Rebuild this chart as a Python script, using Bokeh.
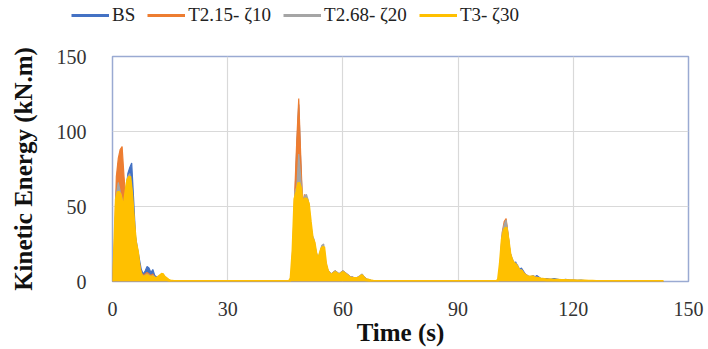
from bokeh.plotting import figure
from bokeh.layouts import column, row
from bokeh.models import Legend, LegendItem, Range1d, FixedTicker
from bokeh.embed import file_html
from bokeh.resources import INLINE

# ---- data ----
time_s = [
    0, 0.5, 1, 1.5, 2, 2.5, 3, 3.5, 4, 4.5, 5, 5.5, 6, 6.5, 7, 7.5, 8, 8.5, 9, 9.5,
    10, 10.5, 11, 11.5, 12, 12.5, 13, 13.5, 14, 14.5, 15, 15.5, 16,
    46, 46.5, 47, 47.5, 48, 48.5, 49, 49.5, 50, 50.5, 51, 51.5, 52, 52.5, 53, 53.5,
    54, 54.5, 55, 55.5, 56, 56.5, 57, 57.5, 58, 58.5, 59, 59.5, 60, 60.5, 61, 61.5,
    62, 62.5, 63, 63.5, 64, 64.5, 65, 65.5, 66, 66.5, 67, 67.5, 68,
    100, 100.5, 101, 101.5, 102, 102.5, 103, 103.5, 104, 104.5, 105, 105.5, 106,
    106.5, 107, 107.5, 108, 108.5, 109, 109.5, 110, 110.5, 111, 111.5, 112,
    113, 114, 115, 116, 117, 118, 119, 120, 121, 122, 123, 124, 125, 126,
    143.5,
]

bs = [
    0, 20, 60, 79, 70, 55, 45, 60, 72, 76, 79, 55, 30, 22, 15, 8, 5, 7, 10, 9,
    6, 8, 4, 3, 2, 3, 4, 3, 2, 1, 0.5, 0.3, 0,
    0, 2, 20, 55, 90, 118, 80, 50, 55, 52, 48, 40, 30, 25, 20, 15, 18, 22, 20, 12,
    8, 6, 5, 6, 7, 6, 5, 6, 7, 6, 5, 4, 3, 3, 2, 2, 3, 3, 4, 3, 2, 1, 1, 0.5, 0,
    0, 1, 12, 30, 38, 40, 30, 20, 14, 12, 13, 10, 8, 9, 7, 5, 4, 3, 3, 4, 3, 4, 3, 2, 2,
    2, 1.5, 2, 1.5, 1, 1.5, 1, 1, 0.8, 1, 0.6, 0.5, 0.3, 0,
    0,
]

t215_z10 = [
    0, 25, 70, 82, 88, 90, 70, 55, 60, 68, 60, 45, 28, 20, 12, 6, 4, 5, 6, 5,
    4, 5, 3, 2, 2, 3, 4, 3, 2, 1, 0.5, 0.2, 0,
    0, 3, 25, 62, 95, 122, 85, 52, 58, 55, 50, 40, 30, 25, 18, 14, 18, 23, 21, 12,
    8, 6, 5, 6, 7, 6, 5, 6, 7, 6, 5, 4, 3, 3, 2, 2, 3, 3, 4, 3, 2, 1, 1, 0.5, 0,
    0, 1, 14, 33, 40, 42, 32, 20, 15, 12, 12, 10, 8, 8, 6, 5, 4, 3, 3, 4, 3, 3, 2, 2, 2,
    1.5, 1.5, 1, 1, 1, 1, 0.8, 0.8, 0.6, 0.6, 0.5, 0.4, 0.2, 0,
    0,
]

t268_z20 = [
    0, 22, 58, 66, 60, 55, 50, 62, 70, 72, 62, 42, 27, 21, 10, 5, 3, 4, 5, 4,
    3, 4, 3, 2, 3, 4, 5, 3, 2, 1, 0.5, 0.2, 0,
    0, 2, 22, 60, 63, 85, 70, 50, 57, 58, 54, 42, 31, 28, 20, 15, 19, 24, 25, 13,
    8, 6, 5, 6, 7, 6, 5, 6, 7, 6, 5, 4, 3, 3, 2, 2, 3, 4, 5, 3, 2, 1, 1, 0.5, 0,
    0, 1, 13, 32, 38, 41, 31, 19, 16, 13, 12, 11, 8, 8, 6, 5, 4, 3, 3, 4, 3, 3, 2, 2, 2,
    1.5, 1.2, 1, 1, 1, 0.8, 0.8, 0.6, 0.6, 0.5, 0.4, 0.3, 0.2, 0,
    0,
]

t3_z30 = [
    0, 18, 55, 60, 58, 52, 50, 60, 68, 70, 58, 40, 26, 20, 8, 4, 3, 3, 4, 3,
    3, 3, 2, 2, 3, 4, 5, 3, 2, 1, 0.4, 0.2, 0,
    0, 2, 20, 55, 60, 66, 62, 48, 55, 55, 52, 40, 29, 26, 18, 14, 18, 22, 23, 12,
    7, 5, 4, 5, 6, 5, 4, 5, 6, 5, 4, 3, 2, 2, 2, 2, 2, 3, 4, 2, 1, 1, 0.5, 0.3, 0,
    0, 1, 12, 28, 34, 36, 28, 18, 14, 12, 11, 9, 7, 7, 5, 4, 3, 3, 3, 3, 2, 2, 2, 1.5, 1.5,
    1, 1, 0.8, 0.8, 0.6, 0.6, 0.5, 0.5, 0.4, 0.4, 0.3, 0.2, 0.1, 0,
    0,
]

series_names = ["BS", "T2.15- \u03b610", "T2.68- \u03b620", "T3- \u03b630"]
series_colors = ["#4472C4", "#ED7D31", "#A5A5A5", "#FFC000"]
x_ticks = [0, 30, 60, 90, 120, 150]
y_ticks = [0, 50, 100, 150]

SERIF = "Liberation Serif"

# ---- legend strip (own small figure; its ranges keep the copied series off-view) ----
leg_fig = figure(
    width=708, height=30, output_backend="svg", toolbar_location=None,
    x_range=Range1d(-20, -10), y_range=Range1d(-20, -10),
    min_border=0, x_axis_type=None, y_axis_type=None,
)
leg_fig.outline_line_color = None
leg_fig.xgrid.visible = False
leg_fig.ygrid.visible = False

# ---- main chart ----
p = figure(
    width=708, height=319, output_backend="svg", toolbar_location=None,
    x_range=Range1d(0, 150), y_range=Range1d(0, 150),
    min_border_left=112, min_border_right=20, min_border_top=26, min_border_bottom=68,
    background_fill_color="white", border_fill_color="white",
)

all_vals = [bs, t215_z10, t268_z20, t3_z30]
legend_items = []
for name, vals, col in zip(series_names, all_vals, series_colors):
    p.varea(x=time_s, y1=[0] * len(time_s), y2=vals, fill_color=col, fill_alpha=1.0)
    lw = 3 if col == "#FFC000" else 1.2
    p.line(x=time_s, y=vals, line_color=col, line_width=lw)
    key = leg_fig.line(x=time_s, y=vals, line_color=col, line_width=3)
    legend_items.append(LegendItem(label=name, renderers=[key]))

legend = Legend(
    items=legend_items, orientation="horizontal", location=(71, 4),
    border_line_color=None, background_fill_alpha=0, padding=0, margin=0,
    spacing=12, glyph_width=38, glyph_height=20, label_standoff=3,
    label_text_font=SERIF, label_text_font_size="19px", label_text_color="#222222",
)
leg_fig.add_layout(legend, "center")

p.outline_line_color = "#9AAAD2"
p.outline_line_width = 1.5

for ax in (p.xaxis[0], p.yaxis[0]):
    ax.axis_line_color = None
    ax.major_tick_line_color = None
    ax.minor_tick_line_color = None
    ax.major_label_text_font = SERIF
    ax.major_label_text_font_size = "20px"
    ax.major_label_text_color = "#333333"
    ax.axis_label_text_font = SERIF
    ax.axis_label_text_font_size = "25px"
    ax.axis_label_text_font_style = "bold"
    ax.axis_label_text_color = "#111111"

p.xaxis.ticker = FixedTicker(ticks=x_ticks)
p.yaxis.ticker = FixedTicker(ticks=y_ticks)
p.xaxis.axis_label = "Time (s)"
p.yaxis.axis_label = "Kinetic Energy (kN.m)"
p.xaxis.major_label_standoff = 14
p.yaxis.major_label_standoff = 20
p.xaxis.axis_label_standoff = 0
p.yaxis.axis_label_standoff = 17

p.xgrid.grid_line_color = "#D9D9D9"
p.ygrid.grid_line_color = "#D9D9D9"
p.xgrid.grid_line_width = 1.2
p.ygrid.grid_line_width = 1.2

layout = column(row(leg_fig, spacing=0), p, spacing=0)
open("out.html", "w").write(file_html(layout, INLINE))
